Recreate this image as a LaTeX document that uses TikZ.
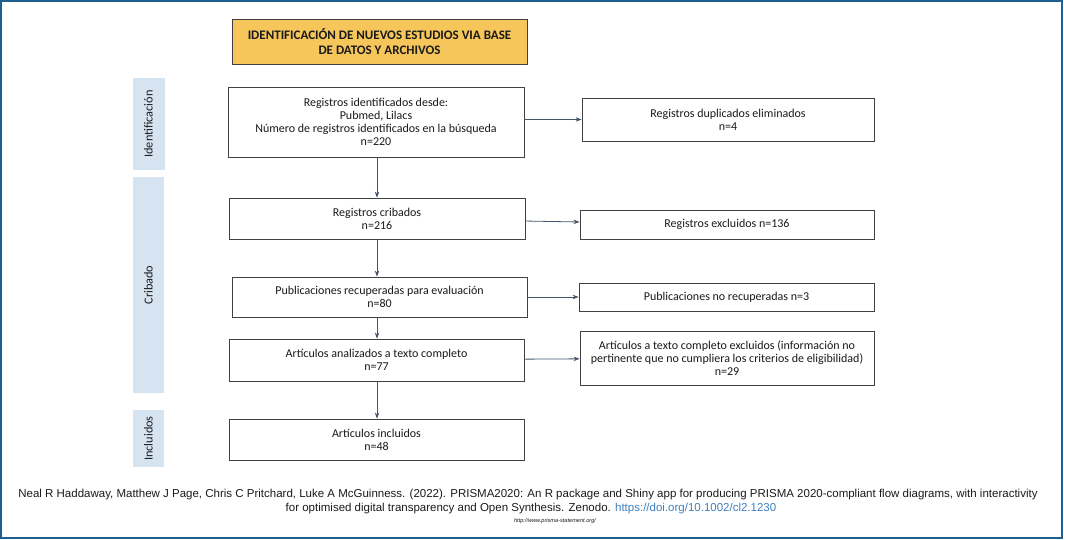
\documentclass[tikz,border=0pt]{standalone}
\usepackage{fontspec}
\setmainfont{Carlito}
\newfontfamily\footfont{Liberation Sans}
\usetikzlibrary{arrows.meta}
\definecolor{frameblue}{HTML}{1F5F8F}
\definecolor{titlefill}{HTML}{F6C65B}
\definecolor{barfill}{HTML}{D6E4F1}
\definecolor{boxline}{HTML}{404040}
\definecolor{arrcol}{HTML}{44546A}
\definecolor{txt}{HTML}{1A1A1A}
\definecolor{linkblue}{HTML}{3F7FBF}
\tikzset{
  frame/.style={draw=frameblue, line width=1.6pt},
  box/.style={draw=boxline, line width=0.8pt, fill=white, align=center, text=txt,
    font=\fontsize{12}{12.8}\selectfont, inner sep=0pt},
  titlebox/.style={box, fill=titlefill, font=\bfseries\fontsize{13}{14.5}\selectfont},
  sidebar/.style={fill=barfill, inner sep=0pt, text=txt, font=\fontsize{12.3}{13}\selectfont},
  arr/.style={draw=arrcol, line width=0.8pt, -{Stealth[length=6pt,width=4.5pt]}},
  foot/.style={font=\footfont\fontsize{11.5}{13}\selectfont, text=txt, inner sep=0pt},
}
\begin{document}
\begin{tikzpicture}[x=1pt,y=-1pt]
\useasboundingbox (0,0) rectangle (1065,540);
\draw[frame] (1,1) rectangle (1062,538);

\node[titlebox, minimum width=295pt, minimum height=45pt] (title) at (379.5,41.5)
  {IDENTIFICACIÓN DE NUEVOS ESTUDIOS VIA BASE\\DE DATOS Y ARCHIVOS};

\node[sidebar, minimum width=32pt, minimum height=92pt] (sid) at (148.5,124) {};
\node[sidebar, rotate=90, fill=none] (sidl) at (sid.center) {Identificación};
\node[sidebar, minimum width=31pt, minimum height=216pt] (scr) at (148.5,285) {};
\node[sidebar, rotate=90, fill=none] (scrl) at (scr.center) {Cribado};
\node[sidebar, minimum width=31pt, minimum height=57pt] (sin) at (148.5,438.5) {};
\node[sidebar, rotate=90, fill=none] (sinl) at (sin.center) {Incluidos};

\node[box, minimum width=296pt, minimum height=70pt] (ident) at (376,122)
  {Registros identificados desde:\\Pubmed, Lilacs\\Número de registros identificados en la búsqueda\\n=220};
\node[box, minimum width=292pt, minimum height=43pt] (dup) at (728,119.5)
  {Registros duplicados eliminados\\n=4};
\node[box, minimum width=296pt, minimum height=41pt] (crib) at (377,218.5)
  {Registros cribados\\n=216};
\node[box, minimum width=294pt, minimum height=29pt] (excl) at (727,224.5)
  {Registros excluidos n=136};
\node[box, minimum width=295pt, minimum height=40pt] (pub) at (379.5,297)
  {Publicaciones recuperadas para evaluación\\n=80};
\node[box, minimum width=295pt, minimum height=28pt] (norec) at (726.5,297)
  {Publicaciones no recuperadas n=3};
\node[box, minimum width=295pt, minimum height=42pt] (art) at (376.5,360)
  {Artículos analizados a texto completo\\n=77};
\draw[boxline, line width=1.6pt] (art.south west) -- (art.south east);
\node[box, minimum width=294pt, minimum height=54pt] (artex) at (727,358)
  {Artículos a texto completo excluidos (información no\\pertinente que no cumpliera los criterios de eligibilidad)\\n=29};
\node[box, minimum width=295pt, minimum height=41pt] (incl) at (376.5,439.5)
  {Artículos incluidos\\n=48};

\draw[arr] (ident.south -| 377,0) -- (crib.north -| 377,0);
\draw[arr] (crib.south -| 377,0) -- (pub.north -| 377,0);
\draw[arr] (pub.south -| 377,0) -- (art.north -| 377,0);
\draw[arr] (art.south -| 377,0) -- (incl.north -| 377,0);
\draw[arr] (ident.east |- dup.west) -- (dup.west);
\draw[arr] (crib) -- (excl);
\draw[arr] (pub) -- (norec);
\draw[arr] (art) -- (artex);

\node[foot] (f1) at (528,495) {Neal R Haddaway, Matthew J Page, Chris C Pritchard, Luke A McGuinness. (2022). PRISMA2020: An R package and Shiny app for producing PRISMA 2020-compliant flow diagrams, with interactivity};
\node[foot] (f2) at (531,509) {for optimised digital transparency and Open Synthesis. Zenodo. \textcolor{linkblue}{https://doi.org/10.1002/cl2.1230}};
\node[foot, font=\footfont\itshape\fontsize{5.6}{7}\selectfont] (f3) at (555,521) {http://www.prisma-statement.org/};
\end{tikzpicture}
\end{document}
